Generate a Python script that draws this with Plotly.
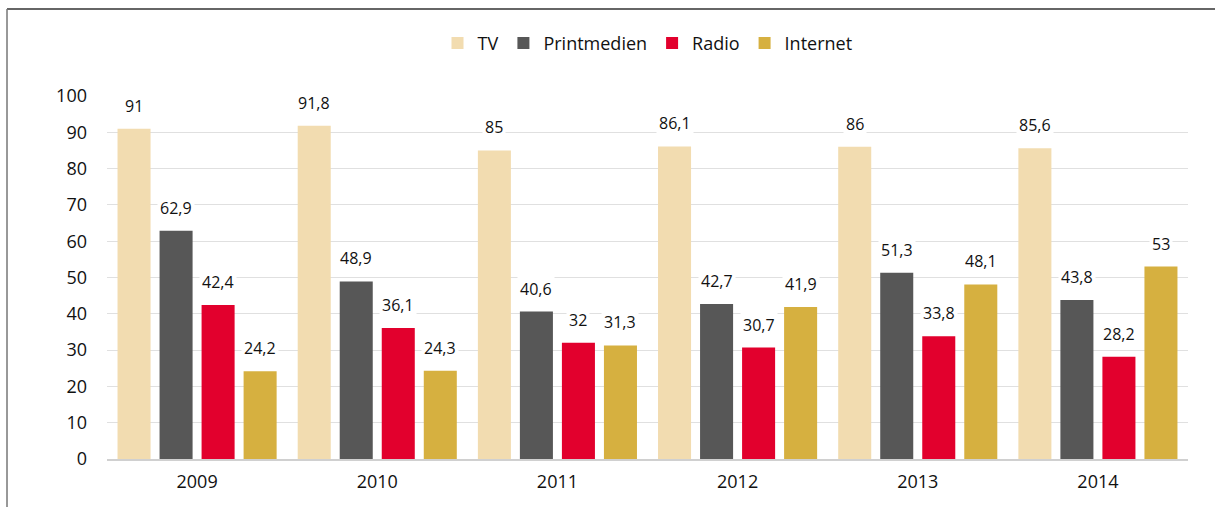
import plotly.graph_objects as go

years = ["2009", "2010", "2011", "2012", "2013", "2014"]
series_names = ["TV", "Printmedien", "Radio", "Internet"]
tv = [91, 91.8, 85, 86.1, 86, 85.6]
print_media = [62.9, 48.9, 40.6, 42.7, 51.3, 43.8]
radio = [42.4, 36.1, 32, 30.7, 33.8, 28.2]
internet = [24.2, 24.3, 31.3, 41.9, 48.1, 53]
colors = ["#f2dcb0", "#575757", "#e2002d", "#d6b040"]

all_values = [tv, print_media, radio, internet]

def fmt(v):
    s = ("%g" % v)
    return s.replace(".", ",")

fig = go.Figure()
for name, vals, col in zip(series_names, all_values, colors):
    fig.add_trace(go.Bar(name=name, x=years, y=vals, marker_color=col,
                         marker_line_width=0))

annotations = []
for i, vals in enumerate(all_values):
    for j, v in enumerate(vals):
        annotations.append(dict(
            x=j, y=v, xref="x", yref="y", text=fmt(v), showarrow=False,
            xshift=(i - 1.5) * 42, yshift=23, bgcolor="white",
            font=dict(size=16, color="#111111"), borderpad=2))

fig.update_layout(
    width=1215, height=507,
    margin=dict(l=107, r=27, t=96, b=48),
    plot_bgcolor="white", paper_bgcolor="white",
    font=dict(family="Open Sans", color="#111111"),
    barmode="group", bargap=0.067, bargroupgap=0.214,
    legend=dict(orientation="h", x=0.5, xanchor="center", y=1.145, yanchor="middle",
                font=dict(size=18), itemwidth=30, traceorder="normal"),
    annotations=annotations,
    shapes=[
        dict(type="line", xref="paper", yref="paper", x0=-0.0925, x1=1.03,
             y0=1.2397, y1=1.2397, line=dict(color="#333333", width=1.5)),
        dict(type="line", xref="paper", yref="paper", x0=-0.0925, x1=-0.0925,
             y0=-0.14, y1=1.2397, line=dict(color="#777777", width=1.5)),
    ],
)
fig.update_yaxes(range=[0, 100], dtick=10, showgrid=True, gridcolor="#e0e0e0",
                 gridwidth=1, zeroline=False, showline=False,
                 tickfont=dict(size=18), ticks="", ticklabelstandoff=19)
fig.update_xaxes(type="category", range=[-0.5, 5.5], showline=True, linecolor="#d0d0d0",
                 linewidth=1.5, tickfont=dict(size=18), ticks="", ticklabelstandoff=6)

fig.write_html("out.html", config={"displayModeBar": False},
               post_script="document.body.style.margin='0';document.body.style.padding='0';")
